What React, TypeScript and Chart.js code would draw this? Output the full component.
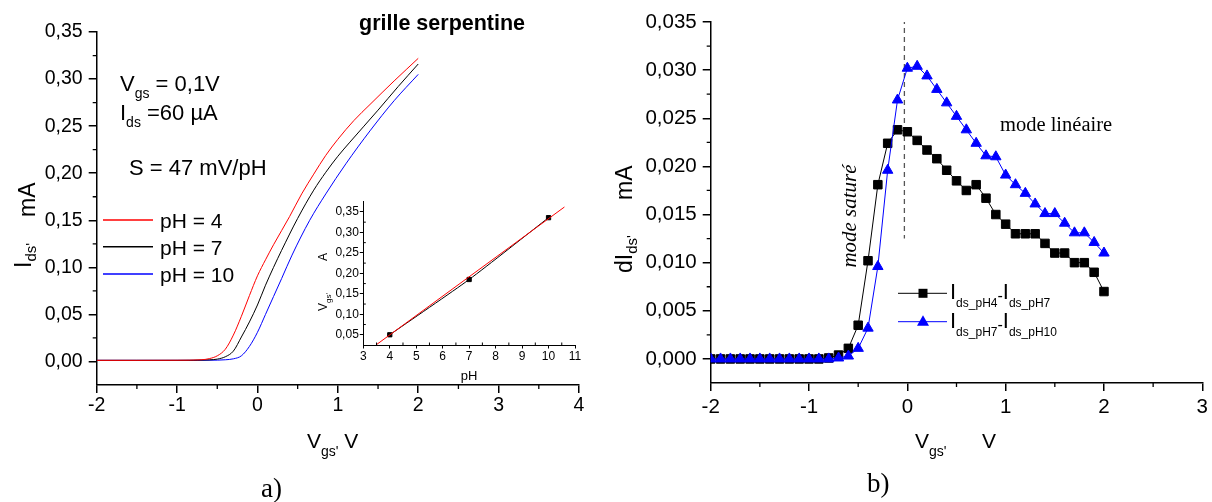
import React, { useEffect, useRef } from 'react';
import { Chart, registerables } from 'chart.js';

Chart.register(...registerables);

const SANS = '"Liberation Sans", Arial, Helvetica, sans-serif';
const SERIF = '"Liberation Serif", "Times New Roman", Times, serif';

// ---------------- Panel a) : Ids(Vgs) curves ----------------
const aX4 = [-2, -1.5, -1, -0.7, -0.6, -0.5, -0.4, -0.3, -0.2, -0.1, 0, 0.1, 0.2, 0.4, 0.55, 0.7, 0.85, 1.0, 1.2, 1.4, 1.7, 2.0];
const aY4 = [0.0012, 0.0012, 0.0013, 0.0018, 0.003, 0.006, 0.013, 0.028, 0.048, 0.07, 0.091, 0.108, 0.124, 0.154, 0.178, 0.199, 0.219, 0.236, 0.256, 0.273, 0.298, 0.322];
const aX7 = [-2, -1.5, -1, -0.6, -0.5, -0.4, -0.3, -0.2, -0.1, 0, 0.1, 0.2, 0.3, 0.5, 0.7, 0.85, 1.0, 1.15, 1.5, 1.75, 2.0];
const aY7 = [0.0012, 0.0012, 0.0012, 0.0017, 0.0025, 0.005, 0.011, 0.026, 0.042, 0.06, 0.081, 0.1, 0.118, 0.152, 0.182, 0.201, 0.218, 0.233, 0.267, 0.292, 0.316];
const aX10 = [-2, -1.5, -1, -0.5, -0.4, -0.3, -0.2, -0.1, 0, 0.1, 0.2, 0.3, 0.43, 0.65, 0.85, 1.1, 1.4, 1.7, 2.0];
const aY10 = [0.0012, 0.0012, 0.0012, 0.0014, 0.0018, 0.0028, 0.006, 0.016, 0.031, 0.05, 0.069, 0.088, 0.113, 0.15, 0.178, 0.21, 0.245, 0.277, 0.305];
const aXTicks = [-2, -1, 0, 1, 2, 3, 4];
const aYTicks = [0, 0.05, 0.1, 0.15, 0.2, 0.25, 0.3, 0.35];
const aLegend = ['pH = 4', 'pH = 7', 'pH = 10'];
const aColors = ['#ff0000', '#000000', '#0000ff'];

// ---------------- Inset : Vgs(pH) ----------------
const insPH = [4, 7, 10];
const insV = [0.05, 0.185, 0.336];
const fitPH = [3.5, 10.6];
const fitV = [0.026, 0.362];
const insXTicks = [3, 4, 5, 6, 7, 8, 9, 10, 11];
const insYTicks = [0.05, 0.1, 0.15, 0.2, 0.25, 0.3, 0.35];

// ---------------- Panel b) : dIds(Vgs) ----------------
const bX = [-2.0, -1.9, -1.8, -1.7, -1.6, -1.5, -1.4, -1.3, -1.2, -1.1, -1.0, -0.9, -0.8, -0.7, -0.6, -0.5, -0.4, -0.3, -0.2, -0.1,
  0.0, 0.1, 0.2, 0.3, 0.4, 0.5, 0.6, 0.7, 0.8, 0.9, 1.0, 1.1, 1.2, 1.3, 1.4, 1.5, 1.6, 1.7, 1.8, 1.9, 2.0];
const bD47 = [0, 0, 0, 0, 0, 0, 0, 0, 0, 0, 0, 0, 0.0001, 0.0004, 0.0011, 0.0035, 0.0102, 0.0181, 0.0224, 0.0238,
  0.0236, 0.0227, 0.0217, 0.0208, 0.0196, 0.0185, 0.0175, 0.0181, 0.0167, 0.015, 0.014, 0.013, 0.013, 0.013, 0.012, 0.011, 0.011, 0.01, 0.01, 0.009, 0.007];
const bD710 = [0, 0, 0, 0, 0, 0, 0, 0, 0, 0, 0, 0, 0, 0.0001, 0.0003, 0.0011, 0.0032, 0.0096, 0.0196, 0.0269,
  0.0302, 0.0304, 0.0294, 0.028, 0.0266, 0.0252, 0.0238, 0.0224, 0.0211, 0.021, 0.0191, 0.0181, 0.0172, 0.0161, 0.0151, 0.0151, 0.0141, 0.0131, 0.0131, 0.0121, 0.011];
const bXTicks = [-2, -1, 0, 1, 2, 3];
const bYTicks = [0, 0.005, 0.01, 0.015, 0.02, 0.025, 0.03, 0.035];
const refX = [-0.03, -0.03];
const refY = [0.0353, 0.0125];

// ---------------- helpers ----------------
const zip = (xs: number[], ys: number[]) => xs.map((x, i) => ({ x, y: ys[i] }));

type Seg = { t: string; size: number; dy?: number; bold?: boolean; italic?: boolean; family?: string };

function drawSegs(ctx: CanvasRenderingContext2D, segs: Seg[], x: number, y: number, rot = 0, align: 'left' | 'center' = 'left') {
  const fontOf = (s: Seg) => `${s.italic ? 'italic ' : ''}${s.bold ? 'bold ' : ''}${s.size}px ${s.family || SANS}`;
  ctx.save();
  ctx.translate(x, y);
  if (rot) ctx.rotate(rot);
  ctx.fillStyle = '#000';
  ctx.textBaseline = 'alphabetic';
  ctx.textAlign = 'left';
  let w = 0;
  for (const s of segs) { ctx.font = fontOf(s); w += ctx.measureText(s.t).width; }
  let cx = align === 'center' ? -w / 2 : 0;
  for (const s of segs) {
    ctx.font = fontOf(s);
    ctx.fillText(s.t, cx, s.dy || 0);
    cx += ctx.measureText(s.t).width;
  }
  ctx.restore();
}

function axis(o: { min: number; max: number; ticks: number[]; fmt: (v: number) => string; size: number; horizontal: boolean; fontSize: number; tickLen: number; pad: number; lw: number }) {
  return {
    type: 'linear' as const,
    min: o.min,
    max: o.max,
    afterBuildTicks: (s: any) => { s.ticks = o.ticks.map((v) => ({ value: v })); },
    afterFit: (s: any) => { if (o.horizontal) s.height = o.size; else s.width = o.size; },
    ticks: {
      callback: (v: any) => o.fmt(Number(v)),
      font: { family: SANS, size: o.fontSize },
      color: '#000',
      padding: o.pad,
      autoSkip: false,
      maxRotation: 0,
      minRotation: 0,
    },
    grid: { drawOnChartArea: false, drawTicks: true, tickLength: o.tickLen, color: '#000', lineWidth: o.lw },
    border: { display: true, color: '#000', width: o.lw },
  };
}

function minorTicks(id: string, len: number, lw: number, inward: boolean) {
  return {
    id,
    afterDraw(chart: any) {
      const ctx = chart.ctx as CanvasRenderingContext2D;
      const ca = chart.chartArea;
      const xs = chart.scales.x;
      const ys = chart.scales.y;
      ctx.save();
      ctx.strokeStyle = '#000';
      ctx.lineWidth = lw;
      const xt = xs.ticks.map((t: any) => t.value);
      const yt = ys.ticks.map((t: any) => t.value);
      ctx.beginPath();
      for (let i = 0; i < xt.length - 1; i++) {
        const px = xs.getPixelForValue((xt[i] + xt[i + 1]) / 2);
        ctx.moveTo(px, ca.bottom);
        ctx.lineTo(px, ca.bottom + (inward ? -len : len));
      }
      for (let i = 0; i < yt.length - 1; i++) {
        const py = ys.getPixelForValue((yt[i] + yt[i + 1]) / 2);
        ctx.moveTo(ca.left, py);
        ctx.lineTo(ca.left + (inward ? len : -len), py);
      }
      ctx.stroke();
      ctx.restore();
    },
  };
}

const fmt2 = (v: number) => v.toFixed(2).replace('.', ',');
const fmt3 = (v: number) => v.toFixed(3).replace('.', ',');
const fmtInt = (v: number) => String(Math.round(v));

// ---------------- text plugins ----------------
const panelAText = {
  id: 'panelAText',
  afterDraw(chart: any) {
    const ctx = chart.ctx as CanvasRenderingContext2D;
    drawSegs(ctx, [{ t: 'I', size: 23 }, { t: "ds'", size: 15, dy: 5 }], 31, 268, -Math.PI / 2);
    drawSegs(ctx, [{ t: 'mA', size: 23 }], 35, 217, -Math.PI / 2);
    drawSegs(ctx, [{ t: 'V', size: 21 }, { t: "gs'", size: 14, dy: 8 }, { t: ' V', size: 21 }], 307, 448);
    drawSegs(ctx, [{ t: 'a)', size: 27, family: SERIF }], 261, 497);
    drawSegs(ctx, [{ t: 'grille serpentine', size: 21.5, bold: true }], 359, 30);
    drawSegs(ctx, [{ t: 'V', size: 22 }, { t: 'gs', size: 14, dy: 7 }, { t: ' = 0,1V', size: 22 }], 120, 91);
    drawSegs(ctx, [{ t: 'I', size: 22 }, { t: 'ds', size: 14, dy: 7 }, { t: ' =60 µA', size: 22 }], 120, 120);
    drawSegs(ctx, [{ t: 'S = 47 mV/pH', size: 22 }], 129, 175);
    const ly = [220, 246.7, 274];
    aLegend.forEach((label, i) => {
      ctx.save();
      ctx.strokeStyle = aColors[i];
      ctx.lineWidth = 1.5;
      ctx.beginPath();
      ctx.moveTo(103, ly[i]);
      ctx.lineTo(153, ly[i]);
      ctx.stroke();
      ctx.restore();
      drawSegs(ctx, [{ t: label, size: 21 }], 160, ly[i] + 8);
    });
  },
};

const insetText = {
  id: 'insetText',
  afterDraw(chart: any) {
    const ctx = chart.ctx as CanvasRenderingContext2D;
    drawSegs(ctx, [{ t: 'pH', size: 13 }], 169, 200, 0, 'center');
    drawSegs(ctx, [{ t: 'V', size: 12 }, { t: "gs'", size: 8, dy: 4 }], 27, 131, -Math.PI / 2);
    drawSegs(ctx, [{ t: 'A', size: 12 }], 27, 81, -Math.PI / 2);
  },
};

const panelBText = {
  id: 'panelBText',
  afterDraw(chart: any) {
    const ctx = chart.ctx as CanvasRenderingContext2D;
    drawSegs(ctx, [{ t: 'dI', size: 23 }, { t: "ds'", size: 15, dy: 5 }], 32, 273, -Math.PI / 2);
    drawSegs(ctx, [{ t: 'mA', size: 23 }], 32, 200, -Math.PI / 2);
    drawSegs(ctx, [{ t: 'V', size: 21 }, { t: "gs'", size: 14, dy: 8 }], 315, 448);
    drawSegs(ctx, [{ t: 'V', size: 21 }], 382, 448);
    drawSegs(ctx, [{ t: 'b)', size: 27, family: SERIF }], 267, 492);
    drawSegs(ctx, [{ t: 'mode saturé', size: 21, italic: true, family: SERIF }], 256, 216, -Math.PI / 2, 'center');
    drawSegs(ctx, [{ t: 'mode linéaire', size: 20.5, family: SERIF }], 400, 131);
    // legend
    const rows = [
      { y: 293.3, color: '#000000', shape: 'rect', a: 'ds_pH4', b: 'ds_pH7' },
      { y: 321.7, color: '#0000ff', shape: 'tri', a: 'ds_pH7', b: 'ds_pH10' },
    ];
    rows.forEach((r) => {
      ctx.save();
      ctx.strokeStyle = r.color;
      ctx.fillStyle = r.color;
      ctx.lineWidth = 1;
      ctx.beginPath();
      ctx.moveTo(298, r.y);
      ctx.lineTo(347, r.y);
      ctx.stroke();
      ctx.beginPath();
      if (r.shape === 'rect') {
        ctx.rect(323 - 4.5, r.y - 4.5, 9, 9);
      } else {
        ctx.moveTo(323, r.y - 6.5);
        ctx.lineTo(323 + 6, r.y + 4);
        ctx.lineTo(323 - 6, r.y + 4);
        ctx.closePath();
      }
      ctx.fill();
      ctx.restore();
      drawSegs(ctx, [
        { t: 'I', size: 22 }, { t: r.a, size: 12, dy: 8 },
        { t: '-', size: 16, dy: 2 },
        { t: 'I', size: 22 }, { t: r.b, size: 12, dy: 8 },
      ], 350, r.y + 6);
    });
  },
};

const baseOpts = {
  responsive: false,
  animation: false as const,
  events: [] as any[],
  plugins: { legend: { display: false }, tooltip: { enabled: false } },
};

export default function App() {
  const aRef = useRef<HTMLCanvasElement>(null);
  const bRef = useRef<HTMLCanvasElement>(null);
  const iRef = useRef<HTMLCanvasElement>(null);

  useEffect(() => {
    document.body.style.margin = '0';
    const charts: Chart[] = [];

    charts.push(new Chart(aRef.current!, {
      type: 'line',
      data: {
        datasets: [
          { data: zip(aX4, aY4), borderColor: aColors[0], borderWidth: 1, pointRadius: 0, cubicInterpolationMode: 'monotone', fill: false },
          { data: zip(aX7, aY7), borderColor: aColors[1], borderWidth: 1, pointRadius: 0, cubicInterpolationMode: 'monotone', fill: false },
          { data: zip(aX10, aY10), borderColor: aColors[2], borderWidth: 1, pointRadius: 0, cubicInterpolationMode: 'monotone', fill: false },
        ],
      },
      options: {
        ...baseOpts,
        layout: { padding: { left: 0, top: 32, right: 21, bottom: 0 } },
        scales: {
          x: axis({ min: -2, max: 4, ticks: aXTicks, fmt: fmtInt, size: 117, horizontal: true, fontSize: 19.5, tickLen: 8, pad: 1, lw: 1.5 }),
          y: axis({ min: -0.025, max: 0.35, ticks: aYTicks, fmt: fmt2, size: 96.7, horizontal: false, fontSize: 19.5, tickLen: 8, pad: 6, lw: 1.5 }),
        },
      } as any,
      plugins: [minorTicks('minA', 4, 1.3, false), panelAText],
    }));

    charts.push(new Chart(iRef.current!, {
      type: 'line',
      data: {
        datasets: [
          { data: zip(insPH, insV), borderColor: '#000', backgroundColor: '#000', borderWidth: 1, pointStyle: 'rect', pointRadius: 3, tension: 0.2, fill: false, order: 2 },
          { data: zip(fitPH, fitV), borderColor: '#ff0000', borderWidth: 1, pointRadius: 0, fill: false, order: 1 },
        ],
      },
      options: {
        ...baseOpts,
        layout: { padding: { left: 0, top: 21.7, right: 25, bottom: 0 } },
        scales: {
          x: axis({ min: 3, max: 11, ticks: insXTicks, fmt: fmtInt, size: 55, horizontal: true, fontSize: 12, tickLen: 3.5, pad: 1, lw: 1 }),
          y: axis({ min: 0.025, max: 0.375, ticks: insYTicks, fmt: fmt2, size: 63.3, horizontal: false, fontSize: 12, tickLen: 3.5, pad: 1, lw: 1 }),
        },
      } as any,
      plugins: [minorTicks('minI', 2.5, 1, true), insetText],
    }));

    charts.push(new Chart(bRef.current!, {
      type: 'line',
      data: {
        datasets: [
          { data: zip(bX, bD47), borderColor: '#000', backgroundColor: '#000', borderWidth: 1, pointStyle: 'rect', pointRadius: 6, pointBorderWidth: 1, fill: false, order: 2 },
          { data: zip(bX, bD710), borderColor: '#0000ff', backgroundColor: '#0000ff', borderWidth: 1, pointStyle: 'triangle', pointRadius: 6, pointBorderWidth: 1, fill: false, order: 1 },
          { data: zip(refX, refY), borderColor: '#555', borderWidth: 1.3, borderDash: [5, 4], pointRadius: 0, fill: false, order: 3 },
        ],
      },
      options: {
        ...baseOpts,
        layout: { padding: { left: 0, top: 22, right: 9, bottom: 0 } },
        scales: {
          x: axis({ min: -2, max: 3, ticks: bXTicks, fmt: fmtInt, size: 119, horizontal: true, fontSize: 20.5, tickLen: 8, pad: 4, lw: 1.5 }),
          y: axis({ min: -0.0025, max: 0.035, ticks: bYTicks, fmt: fmt3, size: 110.7, horizontal: false, fontSize: 20.5, tickLen: 8, pad: 6, lw: 1.5 }),
        },
      } as any,
      plugins: [minorTicks('minB', 4, 1.3, false), panelBText],
    }));

    return () => charts.forEach((c) => c.destroy());
  }, []);

  return (
    <div style={{ position: 'relative', width: 1212, height: 502, background: '#fff', overflow: 'hidden' }}>
      <canvas ref={aRef} width={600} height={502} style={{ position: 'absolute', left: 0, top: 0 }} />
      <canvas ref={bRef} width={612} height={502} style={{ position: 'absolute', left: 600, top: 0 }} />
      <canvas ref={iRef} width={300} height={220} style={{ position: 'absolute', left: 300, top: 180 }} />
    </div>
  );
}
